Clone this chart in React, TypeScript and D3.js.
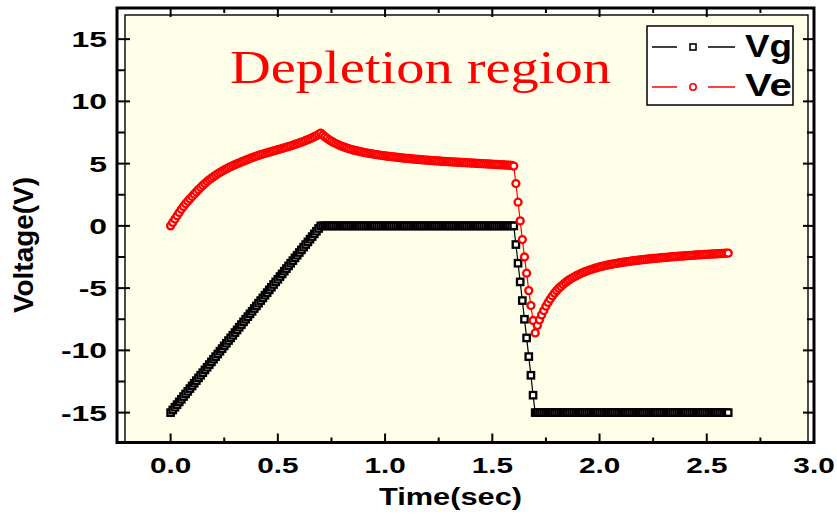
import React from 'react';
import * as d3 from 'd3';

// sampling interval of the recorded traces (s)
const sampleStep = 0.01;

// Vg (V), one value per sample, t = 0.00 … 2.60 s
const vgValues: number[] = [
  -15, -14.79, -14.57, -14.36, -14.14, -13.93, -13.71, -13.5, -13.29, -13.07,
  -12.86, -12.64, -12.43, -12.21, -12, -11.79, -11.57, -11.36, -11.14, -10.93,
  -10.71, -10.5, -10.29, -10.07, -9.86, -9.64, -9.43, -9.21, -9, -8.79,
  -8.57, -8.36, -8.14, -7.93, -7.71, -7.5, -7.29, -7.07, -6.86, -6.64,
  -6.43, -6.21, -6, -5.79, -5.57, -5.36, -5.14, -4.93, -4.71, -4.5,
  -4.29, -4.07, -3.86, -3.64, -3.43, -3.21, -3, -2.79, -2.57, -2.36,
  -2.14, -1.93, -1.71, -1.5, -1.29, -1.07, -0.86, -0.64, -0.43, -0.21,
  0,
  0, 0, 0, 0, 0, 0, 0, 0, 0, 0,
  0, 0, 0, 0, 0, 0, 0, 0, 0, 0,
  0, 0, 0, 0, 0, 0, 0, 0, 0, 0,
  0, 0, 0, 0, 0, 0, 0, 0, 0, 0,
  0, 0, 0, 0, 0, 0, 0, 0, 0, 0,
  0, 0, 0, 0, 0, 0, 0, 0, 0, 0,
  0, 0, 0, 0, 0, 0, 0, 0, 0, 0,
  0, 0, 0, 0, 0, 0, 0, 0, 0, 0,
  0, 0, 0, 0, 0, 0, 0, 0, 0, 0,
  -1.5, -3, -4.5, -6, -7.5, -9, -10.5, -12, -13.6, -15,
  -15, -15, -15, -15, -15, -15, -15, -15, -15, -15,
  -15, -15, -15, -15, -15, -15, -15, -15, -15, -15,
  -15, -15, -15, -15, -15, -15, -15, -15, -15, -15,
  -15, -15, -15, -15, -15, -15, -15, -15, -15, -15,
  -15, -15, -15, -15, -15, -15, -15, -15, -15, -15,
  -15, -15, -15, -15, -15, -15, -15, -15, -15, -15,
  -15, -15, -15, -15, -15, -15, -15, -15, -15, -15,
  -15, -15, -15, -15, -15, -15, -15, -15, -15, -15,
  -15, -15, -15, -15, -15, -15, -15, -15, -15, -15,
];

// Ve (V), one value per sample, t = 0.00 … 2.60 s
const veValues: number[] = [
  0, 0.28, 0.55, 0.82, 1.08, 1.33, 1.56, 1.78, 1.98, 2.17,
  2.36, 2.55, 2.73, 2.91, 3.08, 3.25, 3.41, 3.56, 3.7, 3.83,
  3.95, 4.07, 4.18, 4.29, 4.39, 4.49, 4.58, 4.67, 4.76, 4.84,
  4.92, 4.99, 5.06, 5.13, 5.2, 5.27, 5.34, 5.41, 5.48, 5.54,
  5.6, 5.66, 5.72, 5.77, 5.82, 5.87, 5.92, 5.97, 6.02, 6.07,
  6.12, 6.17, 6.22, 6.27, 6.32, 6.37, 6.42, 6.48, 6.54, 6.6,
  6.66, 6.72, 6.79, 6.86, 6.93, 7, 7.08, 7.16, 7.25, 7.35,
  7.45,
  7.3, 7.15, 7.02, 6.9, 6.8, 6.7, 6.61, 6.53, 6.45, 6.38,
  6.32, 6.26, 6.2, 6.15, 6.1, 6.06, 6.02, 5.98, 5.94, 5.9,
  5.87, 5.84, 5.81, 5.78, 5.75, 5.72, 5.7, 5.67, 5.65, 5.62,
  5.6, 5.58, 5.56, 5.54, 5.52, 5.5, 5.48, 5.46, 5.44, 5.42,
  5.41, 5.39, 5.37, 5.36, 5.34, 5.33, 5.31, 5.3, 5.28, 5.27,
  5.26, 5.24, 5.23, 5.22, 5.21, 5.19, 5.18, 5.17, 5.16, 5.15,
  5.14, 5.13, 5.12, 5.11, 5.1, 5.09, 5.08, 5.07, 5.06, 5.05,
  5.04, 5.03, 5.02, 5.01, 5, 4.99, 4.98, 4.97, 4.96, 4.95,
  4.94, 4.93, 4.92, 4.91, 4.9, 4.89, 4.88, 4.87, 4.86, 4.8,
  3.4, 1.9, 0.4, -1.1, -2.5, -3.8, -5.2, -6.4, -7.6, -8.6,
  -8, -7.55, -7.15, -6.8, -6.45, -6.15, -5.88, -5.63, -5.4, -5.2,
  -5.02, -4.86, -4.71, -4.57, -4.44, -4.32, -4.21, -4.11, -4.02, -3.93,
  -3.85, -3.77, -3.7, -3.63, -3.57, -3.51, -3.45, -3.4, -3.35, -3.3,
  -3.26, -3.22, -3.18, -3.14, -3.1, -3.07, -3.04, -3.01, -2.98, -2.95,
  -2.92, -2.9, -2.87, -2.85, -2.82, -2.8, -2.78, -2.76, -2.74, -2.72,
  -2.7, -2.68, -2.66, -2.64, -2.62, -2.61, -2.59, -2.57, -2.56, -2.54,
  -2.53, -2.51, -2.5, -2.48, -2.47, -2.46, -2.44, -2.43, -2.42, -2.4,
  -2.39, -2.38, -2.37, -2.36, -2.34, -2.33, -2.32, -2.31, -2.3, -2.29,
  -2.28, -2.27, -2.26, -2.25, -2.24, -2.23, -2.22, -2.21, -2.2, -2.19,
];

const seriesNames = ['Vg', 'Ve'];
const xMajorTicks = [0, 0.5, 1.0, 1.5, 2.0, 2.5, 3.0];
const xMinorTicks = [0.25, 0.75, 1.25, 1.75, 2.25, 2.75];
const yMajorTicks = [-15, -10, -5, 0, 5, 10, 15];
const yMinorTicks = [-12.5, -7.5, -2.5, 2.5, 7.5, 12.5];
const xDomain: [number, number] = [-0.25, 3.0];
const yDomain: [number, number] = [-17.4, 17.5];
const titleText = 'Depletion region';
const xAxisTitle = 'Time(sec)';
const yAxisTitle = 'Voltage(V)';

const W = 837;
const H = 522;
const left = 117, right = 814, top = 8, bottom = 442.5;

export default function App() {
  const x = d3.scaleLinear().domain(xDomain).range([left, right]);
  const y = d3.scaleLinear().domain(yDomain).range([bottom, top]);

  const vg = vgValues.map((v, i) => ({ t: i * sampleStep, v }));
  const ve = veValues.map((v, i) => ({ t: i * sampleStep, v }));
  const line = d3.line<{ t: number; v: number }>().x(d => x(d.t)).y(d => y(d.v));

  const sans = 'Liberation Sans, Arial, sans-serif';
  const major = 9, minor = 5;
  const sq = 6.4;
  const lsq = 6;

  return (
    <svg width={W} height={H} style={{ position: 'absolute', left: 0, top: 0, background: '#fff' }}>
      {/* plot layer */}
      <rect x={125} y={15} width={808 - 125} height={bottom - 15} fill="#FFFEE8" stroke="#000" strokeWidth={1.4} />

      {/* Vg series */}
      <path d={line(vg) || ''} fill="none" stroke="#000" strokeWidth={1.2} />
      {vg.map((d, i) => (
        <rect key={'g' + i} x={x(d.t) - sq / 2} y={y(d.v) - sq / 2} width={sq} height={sq}
          fill="#fff" stroke="#000" strokeWidth={2.3} />
      ))}

      {/* Ve series */}
      <path d={line(ve) || ''} fill="none" stroke="#f00" strokeWidth={1.2} />
      {ve.map((d, i) => (
        <circle key={'e' + i} cx={x(d.t)} cy={y(d.v)} r={3.5} fill="#fff" stroke="#f00" strokeWidth={2.3} />
      ))}

      {/* axes frame */}
      <rect x={left} y={top} width={right - left} height={bottom - top} fill="none" stroke="#000" strokeWidth={3} />

      {/* ticks */}
      {xMajorTicks.map(t => (
        <g key={'xm' + t}>
          <line x1={x(t)} x2={x(t)} y1={bottom} y2={bottom - major} stroke="#000" strokeWidth={2} />
          <line x1={x(t)} x2={x(t)} y1={top} y2={top + major} stroke="#000" strokeWidth={2} />
        </g>
      ))}
      {xMinorTicks.map(t => (
        <g key={'xn' + t}>
          <line x1={x(t)} x2={x(t)} y1={bottom} y2={bottom - minor} stroke="#000" strokeWidth={2} />
          <line x1={x(t)} x2={x(t)} y1={top} y2={top + minor} stroke="#000" strokeWidth={2} />
        </g>
      ))}
      {yMajorTicks.map(t => (
        <g key={'ym' + t}>
          <line x1={left} x2={left + major + 4} y1={y(t)} y2={y(t)} stroke="#000" strokeWidth={2} />
          <line x1={right} x2={right - major - 2} y1={y(t)} y2={y(t)} stroke="#000" strokeWidth={2} />
        </g>
      ))}
      {yMinorTicks.map(t => (
        <g key={'yn' + t}>
          <line x1={left} x2={left + minor + 3} y1={y(t)} y2={y(t)} stroke="#000" strokeWidth={2} />
          <line x1={right} x2={right - minor - 2} y1={y(t)} y2={y(t)} stroke="#000" strokeWidth={2} />
        </g>
      ))}

      {/* tick labels */}
      {yMajorTicks.map(t => (
        <text key={'yl' + t} transform={`translate(107,${y(t) + 8}) scale(1.45,1)`} textAnchor="end"
          fontFamily={sans} fontWeight="bold" fontSize={22} fill="#000">{String(t)}</text>
      ))}
      {xMajorTicks.map(t => (
        <text key={'xl' + t} transform={`translate(${x(t)},473) scale(1.35,1)`} textAnchor="middle"
          fontFamily={sans} fontWeight="bold" fontSize={22} fill="#000">{d3.format('.1f')(t)}</text>
      ))}

      {/* axis titles */}
      <text x={379} y={505} textLength={143} lengthAdjust="spacingAndGlyphs"
        fontFamily={sans} fontWeight="bold" fontSize={23} fill="#000">{xAxisTitle}</text>
      <text transform="translate(33,245) rotate(-90) scale(1,1.3)" textAnchor="middle"
        textLength={136} lengthAdjust="spacingAndGlyphs"
        fontFamily={sans} fontWeight="bold" fontSize={21} fill="#000">{yAxisTitle}</text>

      {/* annotation */}
      <text x={230} y={83} textLength={381} lengthAdjust="spacingAndGlyphs"
        fontFamily="Liberation Serif, Times New Roman, serif" fontSize={46} fill="#f00">{titleText}</text>

      {/* legend */}
      <rect x={647} y={26} width={146} height={79} fill="#fff" stroke="#000" strokeWidth={1.5} />
      <line x1={652} x2={677} y1={47} y2={47} stroke="#000" strokeWidth={1.5} />
      <line x1={708} x2={735} y1={47} y2={47} stroke="#000" strokeWidth={1.5} />
      <rect x={693 - lsq / 2} y={47 - lsq / 2} width={lsq} height={lsq} fill="#fff" stroke="#000" strokeWidth={1.6} />
      <text x={745} y={57} textLength={47} lengthAdjust="spacingAndGlyphs"
        fontFamily={sans} fontWeight="bold" fontSize={32} fill="#000">{seriesNames[0]}</text>
      <line x1={652} x2={677} y1={87} y2={87} stroke="#f00" strokeWidth={1.5} />
      <line x1={708} x2={735} y1={87} y2={87} stroke="#f00" strokeWidth={1.5} />
      <circle cx={693} cy={87} r={3.2} fill="#fff" stroke="#f00" strokeWidth={1.6} />
      <text x={745} y={96} textLength={47} lengthAdjust="spacingAndGlyphs"
        fontFamily={sans} fontWeight="bold" fontSize={32} fill="#000">{seriesNames[1]}</text>
    </svg>
  );
}
